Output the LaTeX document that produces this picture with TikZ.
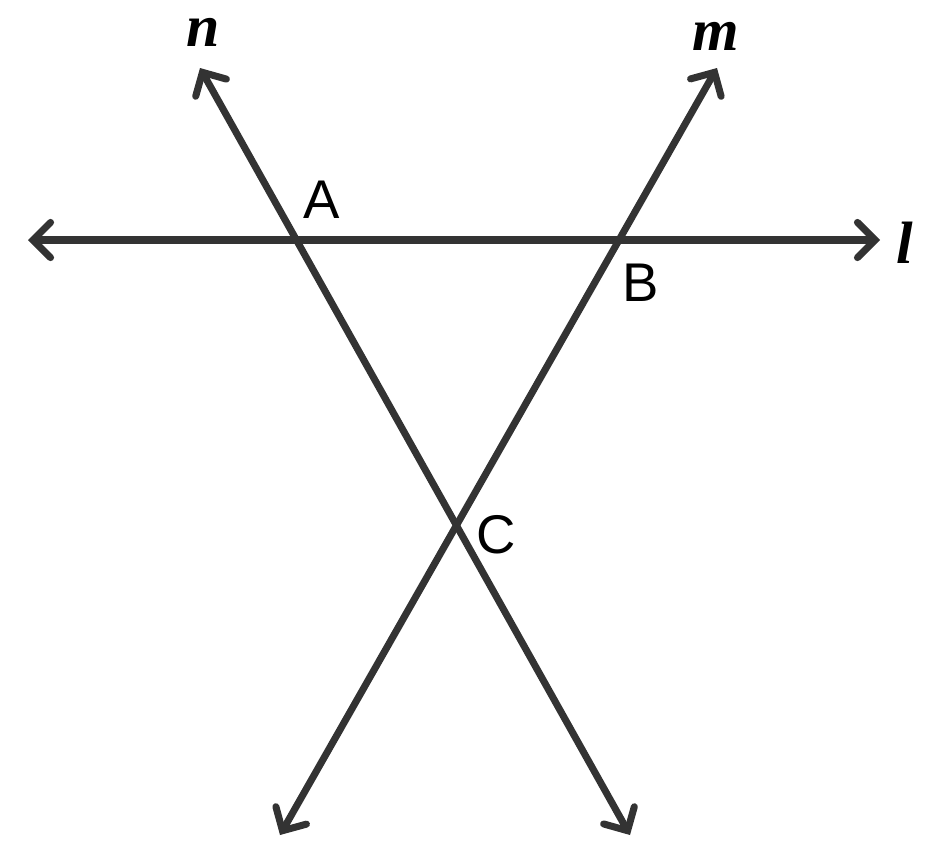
\documentclass[tikz,border=0pt]{standalone}
\usepackage{fontspec}
\setmainfont{Liberation Serif}
\newfontfamily\lblfont{Liberation Sans}
\usetikzlibrary{arrows.meta}
\definecolor{ink}{HTML}{333333}
\tikzset{
  line/.style={ink, line width=2pt, line cap=round,
    {Straight Barb[length=5pt,width=10pt,line cap=round]}-{Straight Barb[length=5pt,width=10pt,line cap=round]}},
  pt/.style={font=\lblfont\fontsize{15.5pt}{15.5pt}\selectfont, text=black},
  linename/.style={font=\bfseries\itshape\fontsize{17pt}{17pt}\selectfont, text=black}
}
\begin{document}
\begin{tikzpicture}[x=0.01cm,y=-0.01cm]
\useasboundingbox (0,0) rectangle (934,866);

\coordinate (lL) at (28,240);
\coordinate (lR) at (880,240);
\coordinate (nT) at (200,68);
\coordinate (nB) at (630,835);
\coordinate (mT) at (717,68);
\coordinate (mB) at (280,835);

\draw [line] (lL) -- (lR); % l
\draw [line] (nT) -- (nB); % n
\draw [line] (mT) -- (mB); % m

\node [linename] (n) at (203,32){n};
\node [linename] (m) at (716,36){m};
\node [linename] (l) at (905,243){l};
\node [pt] (A) at (322,200){A};
\node [pt] (B) at (641,283){B};
\node [pt] (C) at (496,535){C};

\end{tikzpicture}
\end{document}
